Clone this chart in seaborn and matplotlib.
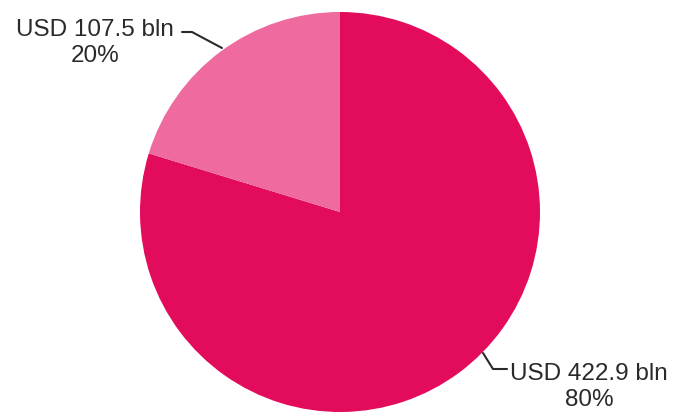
import matplotlib
matplotlib.use("Agg")
import matplotlib.pyplot as plt
import seaborn as sns

sns.set_theme(style="white")
plt.rcParams['font.family'] = ['Liberation Sans', 'DejaVu Sans']

labels = ["USD 422.9 bln", "USD 107.5 bln"]
values = [422.9, 107.5]
shares = ["80%", "20%"]
colors = ["#E30B5C", "#EE6A9F"]

W, H = 683, 418
fig = plt.figure(figsize=(W / 100, H / 100), dpi=100)
ax = fig.add_axes([0, 0, 1, 1])

cx, cy, r = 340, H - 212, 200
ax.pie(values, colors=colors, startangle=90, counterclock=False,
       center=(cx, cy), radius=r, frame=True,
       wedgeprops=dict(linewidth=0))
ax.set_xlim(0, W)
ax.set_ylim(0, H)
ax.set_aspect("equal")
ax.axis("off")

# labels
ax.text(95, H - 43, f"{labels[1]}\n{shares[1]}", ha="center", va="center",
        fontsize=17.5, color="#2a2a2a", linespacing=1.22)
ax.text(589, H - 387, f"{labels[0]}\n{shares[0]}", ha="center", va="center",
        fontsize=17.5, color="#2a2a2a", linespacing=1.22)

# leader lines
ax.plot([182, 192, 222], [H - 32, H - 32, H - 48], color="#2a2a2a", lw=1.5)
ax.plot([483, 493, 507], [H - 353, H - 369, H - 369], color="#2a2a2a", lw=1.5)

fig.savefig("out.png", dpi=100)
